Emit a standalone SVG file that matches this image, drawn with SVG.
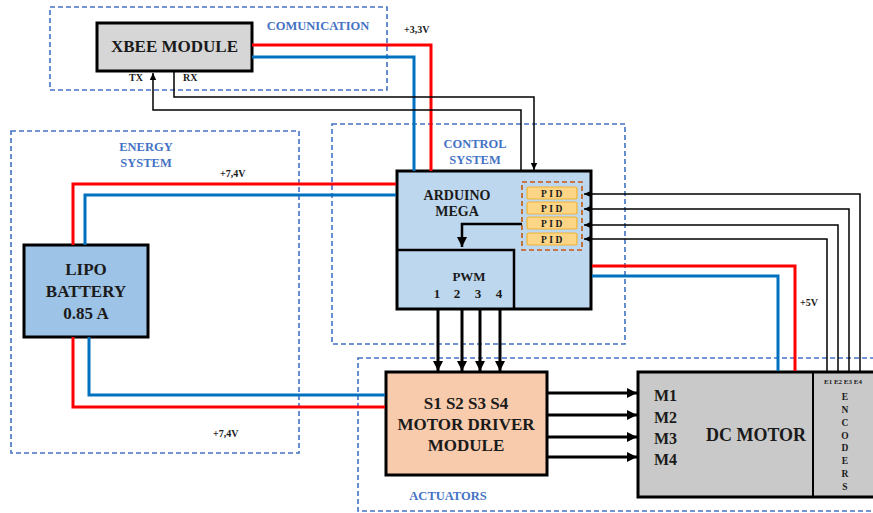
<svg xmlns="http://www.w3.org/2000/svg" width="873" height="513" viewBox="0 0 873 513" font-family="'Liberation Serif','Times New Roman','DejaVu Serif',serif">
<style>
text{font-family:'Liberation Serif','Times New Roman','DejaVu Serif',serif;font-weight:bold;fill:#1a1a1a}
.grp{fill:none;stroke:#4472c4;stroke-width:1.6;stroke-dasharray:5,3}
.glbl{fill:#4472c4;font-size:12.5px;text-anchor:middle}
.box{stroke:#000;stroke-width:3}
.red{fill:none;stroke:#ff0000;stroke-width:3}
.blue{fill:none;stroke:#0070c0;stroke-width:3}
.sig{fill:none;stroke:#000;stroke-width:1.5}
.thick{fill:none;stroke:#000;stroke-width:3}
.volt{font-size:10px}
.pid{fill:#fdd587;stroke:#f2b531;stroke-width:1.2}
.pidt{font-size:9.5px;letter-spacing:2.5px;text-anchor:middle}
.big{font-size:17px;text-anchor:middle}
</style>
<defs>
<marker id="ah" markerUnits="userSpaceOnUse" markerWidth="8" markerHeight="8" refX="7" refY="4" orient="auto"><path d="M0,0.8 L7,4 L0,7.2 Z" fill="#000"/></marker>
<marker id="ahb" markerUnits="userSpaceOnUse" markerWidth="12" markerHeight="12" refX="10" refY="6" orient="auto"><path d="M0,1 L10,6 L0,11 Z" fill="#000"/></marker>
</defs>
<rect width="873" height="513" fill="#fff"/>
<g id="groups">
<rect class="grp" x="50" y="7" width="337" height="83"/>
<text class="glbl" x="318" y="30">COMUNICATION</text>
<rect class="grp" x="11" y="131" width="288" height="322"/>
<text class="glbl" x="146" y="151">ENERGY</text>
<text class="glbl" x="146" y="167">SYSTEM</text>
<rect class="grp" x="332" y="124" width="293" height="220"/>
<text class="glbl" x="475" y="148">CONTROL</text>
<text class="glbl" x="475" y="164">SYSTEM</text>
<rect class="grp" x="358" y="358" width="520" height="153"/>
<text class="glbl" x="448" y="500">ACTUATORS</text>
</g>
<g id="xbee">
<rect class="box" x="97" y="23" width="155" height="48" fill="#d6d6d6"/>
<text x="174.5" y="52" class="big">XBEE MODULE</text>
</g>
<g id="battery">
<rect class="box" x="24" y="245" width="124" height="92" fill="#9dc3e6"/>
<text class="big" x="86" y="275">LIPO</text>
<text class="big" x="86" y="297">BATTERY</text>
<text class="big" x="86" y="319">0.85 A</text>
</g>
<g id="arduino">
<rect class="box" x="397" y="171" width="194" height="138" fill="#bdd7ee"/>
<text x="457" y="200" style="font-size:14px;text-anchor:middle">ARDUINO</text>
<text x="457" y="216" style="font-size:14px;text-anchor:middle">MEGA</text>
<polyline points="397,250 514,250 514,309" fill="none" stroke="#000" stroke-width="2.5"/>
<text x="469" y="281" style="font-size:13px;text-anchor:middle">PWM</text>
<text x="437" y="298" style="font-size:13px;text-anchor:middle">1</text>
<text x="457" y="298" style="font-size:13px;text-anchor:middle">2</text>
<text x="478" y="298" style="font-size:13px;text-anchor:middle">3</text>
<text x="499" y="298" style="font-size:13px;text-anchor:middle">4</text>
</g>
<g id="pid">
<rect x="522" y="182" width="60" height="68" fill="none" stroke="#c55a11" stroke-width="1.6" stroke-dasharray="5,3"/>
<rect class="pid" x="527" y="187" width="50" height="12" rx="2"/>
<rect class="pid" x="527" y="202" width="50" height="12" rx="2"/>
<rect class="pid" x="527" y="217" width="50" height="12" rx="2"/>
<rect class="pid" x="527" y="233" width="50" height="12" rx="2"/>
<text class="pidt" x="553" y="196.5">PID</text>
<text class="pidt" x="553" y="211.5">PID</text>
<text class="pidt" x="553" y="226.5">PID</text>
<text class="pidt" x="553" y="242.5">PID</text>
</g>
<g id="driver">
<rect class="box" x="386" y="372" width="161" height="103" fill="#f8cbad"/>
<text class="big" x="466" y="409">S1 S2 S3 S4</text>
<text class="big" x="466" y="430">MOTOR DRIVER</text>
<text class="big" x="466" y="451">MODULE</text>
</g>
<g id="motor">
<rect class="box" x="638" y="372" width="240" height="125" fill="#c9c9c9"/>
<line x1="813" y1="372" x2="813" y2="497" stroke="#000" stroke-width="2"/>
<text x="654" y="401" style="font-size:16px">M1</text>
<text x="654" y="423" style="font-size:16px">M2</text>
<text x="654" y="444" style="font-size:16px">M3</text>
<text x="654" y="465" style="font-size:16px">M4</text>
<text x="756" y="441" style="font-size:18px;text-anchor:middle">DC MOTOR</text>
<text x="843" y="384" style="font-size:7px;text-anchor:middle">E1 E2 E3 E4</text>
<g style="font-size:9.5px;text-anchor:middle">
<text x="845" y="400">E</text>
<text x="845" y="413">N</text>
<text x="845" y="426">C</text>
<text x="845" y="439">O</text>
<text x="845" y="451">D</text>
<text x="845" y="464">E</text>
<text x="845" y="477">R</text>
<text x="845" y="490">S</text>
</g>
</g>
<g id="connectors">
<polyline class="red" points="252,45 431,45 431,171"/>
<polyline class="blue" points="252,57 414,57 414,171"/>
<polyline class="sig" points="174,72 174,97 534,97 534,170" marker-end="url(#ah)"/>
<polyline class="sig" points="521,170 521,110 153,110 153,73" marker-end="url(#ah)"/>
<polyline class="red" points="73,245 73,184 396,184"/>
<polyline class="blue" points="85,245 85,195 396,195"/>
<polyline class="red" points="73,337 73,407 385,407"/>
<polyline class="blue" points="89,337 89,395 385,395"/>
<polyline class="red" points="592,266 795,266 795,371"/>
<polyline class="blue" points="592,276 778,276 778,371"/>
<polyline class="sig" points="860,371 860,194 584,194" marker-end="url(#ah)"/>
<polyline class="sig" points="849,371 849,209 584,209" marker-end="url(#ah)"/>
<polyline class="sig" points="838,371 838,225 584,225" marker-end="url(#ah)"/>
<polyline class="sig" points="827,371 827,239 584,239" marker-end="url(#ah)"/>
<polyline class="thick" points="522,224 462,224 462,247" marker-end="url(#ahb)" style="stroke-width:2.5"/>
<line class="thick" x1="438" y1="310" x2="438" y2="371" marker-end="url(#ahb)"/>
<line class="thick" x1="462" y1="310" x2="462" y2="371" marker-end="url(#ahb)"/>
<line class="thick" x1="480" y1="310" x2="480" y2="371" marker-end="url(#ahb)"/>
<line class="thick" x1="500" y1="310" x2="500" y2="371" marker-end="url(#ahb)"/>
<line class="thick" x1="548" y1="393" x2="637" y2="393" marker-end="url(#ahb)"/>
<line class="thick" x1="548" y1="415" x2="637" y2="415" marker-end="url(#ahb)"/>
<line class="thick" x1="548" y1="437" x2="637" y2="437" marker-end="url(#ahb)"/>
<line class="thick" x1="548" y1="457" x2="637" y2="457" marker-end="url(#ahb)"/>
<text class="volt" x="404" y="33">+3,3V</text>
<text class="volt" x="220" y="177">+7,4V</text>
<text class="volt" x="213" y="437">+7,4V</text>
<text class="volt" x="800" y="306">+5V</text>
<text class="volt" x="129" y="81">TX</text>
<text class="volt" x="183" y="81">RX</text>
</g>
</svg>
